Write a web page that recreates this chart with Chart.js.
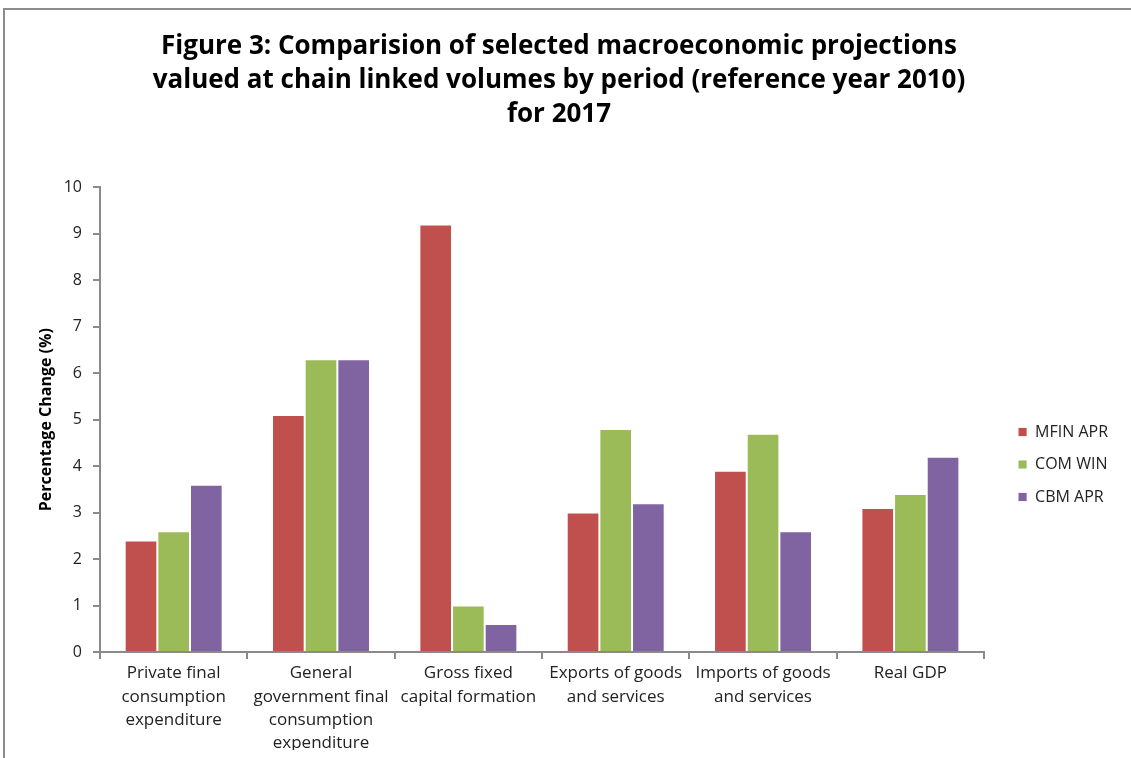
<!DOCTYPE html>
<html>
<head>
<meta charset="utf-8">
<script src="https://cdn.jsdelivr.net/npm/chart.js@4/dist/chart.umd.min.js"></script>
<style>
  html, body { margin: 0; padding: 0; background: #fff; overflow: hidden; }
  #wrap { position: relative; width: 1131px; height: 758px; }
  #frame { position: absolute; left: 3px; top: 8px; width: 1140px; height: 760px;
           border-left: 2px solid #8c8c8c; border-top: 2px solid #8c8c8c; pointer-events: none; }
</style>
</head>
<body>
<div id="wrap">
  <canvas id="c" width="1131" height="758"></canvas>
  <div id="frame"></div>
</div>
<script>
const titleLines = [
  "Figure 3: Comparision of selected macroeconomic projections",
  "valued at chain linked volumes by period (reference year 2010)",
  "for 2017"
];
const categories = [
  ["Private final", "consumption", "expenditure"],
  ["General", "government final", "consumption", "expenditure"],
  ["Gross fixed", "capital formation"],
  ["Exports of goods", "and services"],
  ["Imports of goods", "and services"],
  ["Real GDP"]
];
const seriesNames = ["MFIN APR", "COM WIN", "CBM APR"];
const mfinApr = [2.4, 5.1, 9.2, 3.0, 3.9, 3.1];
const comWin  = [2.6, 6.3, 1.0, 4.8, 4.7, 3.4];
const cbmApr  = [3.6, 6.3, 0.6, 3.2, 2.6, 4.2];
const seriesColors = ["#C0504D", "#9BBB59", "#8064A2"];
const yTitle = "Percentage Change (%)";

const FONT = "'Open Sans', 'Noto Sans', sans-serif";
const AXIS = "#8a8a8a";

const mkDs = (i, data) => ({
  label: seriesNames[i],
  data: data,
  backgroundColor: seriesColors[i],
  borderColor: "rgba(255,255,255,0.85)",
  borderWidth: 1,
  categoryPercentage: 0.665,
  barPercentage: 1.0,
  yAxisID: "y"
});

new Chart(document.getElementById("c"), {
  type: "bar",
  data: {
    labels: categories,
    datasets: [mkDs(0, mfinApr), mkDs(1, comWin), mkDs(2, cbmApr)]
  },
  options: {
    responsive: false,
    animation: false,
    layout: { padding: { left: 0, right: 13, top: 0, bottom: 8 } },
    plugins: {
      tooltip: { enabled: false },
      title: {
        display: true,
        text: titleLines,
        color: "#000",
        font: { family: FONT, size: 26, weight: "bold", lineHeight: 1.3 },
        padding: { top: 30, bottom: 56 }
      },
      legend: {
        display: true,
        position: "right",
        fullSize: true,
        align: "center",
        title: {
          display: true,
          text: "",
          font: { family: FONT, size: 10, lineHeight: 1 },
          padding: { top: 169, bottom: 0 }
        },
        labels: {
          boxWidth: 9,
          boxHeight: 9,
          padding: 16.5,
          color: "#222",
          font: { family: FONT, size: 16 }
        }
      }
    },
    scales: {
      x: {
        type: "category",
        offset: true,
        grid: { offset: true, drawOnChartArea: false, drawTicks: true, tickLength: 7, color: AXIS, lineWidth: 2 },
        border: { display: true, color: AXIS, width: 2 },
        ticks: {
          color: "#222",
          padding: 3,
          maxRotation: 0,
          autoSkip: false,
          font: { family: FONT, size: 17, lineHeight: 1.37 }
        },
        afterFit: (s) => { s.height = 98; }
      },
      y: {
        type: "linear",
        position: "left",
        min: 0,
        max: 10,
        grid: { drawOnChartArea: false, drawTicks: true, tickLength: 7, color: AXIS, lineWidth: 2 },
        border: { display: true, color: AXIS, width: 2 },
        ticks: {
          stepSize: 1,
          color: "#222",
          padding: 11,
          font: { family: FONT, size: 16 }
        },
        title: {
          display: true,
          text: yTitle,
          color: "#000",
          font: { family: FONT, size: 16, weight: "bold" },
          padding: { top: 37, bottom: 0 }
        },
        afterFit: (s) => { s.width = 100; }
      },
      gap: {
        type: "linear",
        position: "right",
        display: true,
        grid: { display: false },
        border: { display: false },
        ticks: { display: false },
        afterFit: (s) => { s.width = 17.5; }
      }
    }
  }
});
</script>
</body>
</html>
